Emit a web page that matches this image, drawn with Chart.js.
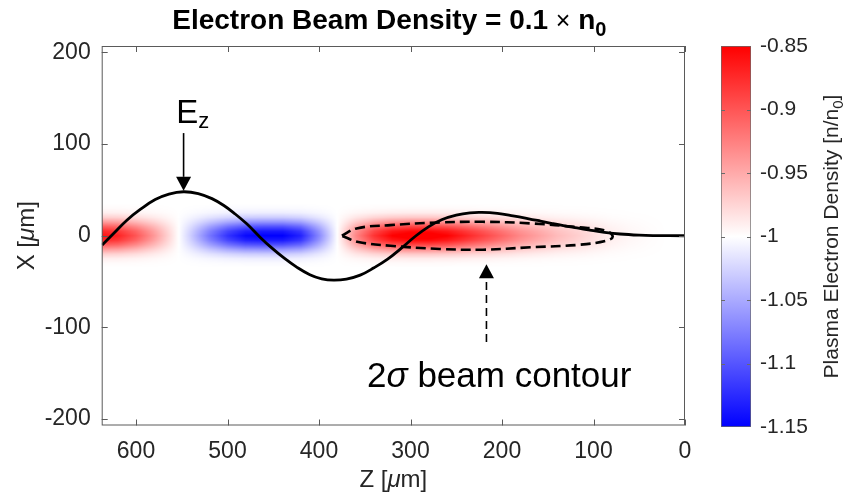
<!DOCTYPE html>
<html>
<head>
<meta charset="utf-8">
<script src="https://cdn.jsdelivr.net/npm/chart.js@4.4.1/dist/chart.umd.min.js"></script>
<style>
  html, body { margin: 0; padding: 0; background: #fff; }
  #wrap { position: relative; width: 847px; height: 498px; }
  #mainChart { position: absolute; left: 0; top: 0; }
  #barChart { position: absolute; left: 700px; top: 0; }
</style>
</head>
<body>
<div id="wrap">
  <canvas id="mainChart" width="700" height="498"></canvas>
  <canvas id="barChart" width="147" height="498"></canvas>
</div>
<script>
const FONT = "'Liberation Sans', Arial, Helvetica, sans-serif";
const INK = '#262626';

// E_z field line, drawn against the X axis
const ezZ = [637, 624, 610, 595, 579, 564, 548, 532, 517, 504, 492, 479, 466,
             452, 438, 424, 410, 397, 384, 370, 355, 340, 325, 310, 294,
             280, 266, 250, 235, 222, 205, 188, 172, 158, 145, 133, 118, 104, 88, 71, 50, 35, 0];
const ezX = [-10, 3, 17, 29, 39.5, 45.5, 48, 46, 40.5, 33, 24, 13, 0,
             -13, -24.5, -34.5, -42.5, -47, -48.5, -47.3, -43, -35, -25.5, -13.5, 0,
             10, 17.5, 22.5, 25, 25.4, 24.3, 21.7, 18.8, 16, 13.3, 11, 8.5, 6.2, 3.8, 1.9, 0.6, 0.2, 0];

// 2 sigma beam contour
const beamZ = [375, 359, 322, 268, 221, 169, 115, 86, 79, 86, 115, 169, 221, 268, 322, 357, 375];
const beamX = [0, 8, 11.6, 14.5, 15.2, 13.5, 9.1, 5.4, -1, -5.4, -9.8, -12.6, -15.2, -14.4, -10.9, -6.8, 0];

// on-axis plasma density perturbation (added to -1) along Z
const densZ = [640, 620, 600, 580, 560, 540, 520, 500, 480, 460, 440, 420, 400, 380, 360, 340, 320,
               300, 280, 260, 240, 220, 200, 180, 160, 140, 120, 100, 80, 60, 40, 20, 0];
const densAmp = [0.14, 0.13, 0.10, 0.06, 0.015, -0.03, -0.08, -0.12, -0.145, -0.15, -0.15, -0.13, -0.07, 0.0, 0.07, 0.12, 0.15,
                 0.16, 0.16, 0.15, 0.13, 0.11, 0.09, 0.07, 0.055, 0.04, 0.03, 0.02, 0.01, 0.005, 0.002, 0, 0];
// transverse fall-off of the perturbation
const profX = [0, 5, 10, 15, 20, 25, 30, 35];
const profF = [1, 0.9, 0.68, 0.42, 0.2, 0.07, 0.02, 0];

// colormap
const cmapVals = [-1.15, -1, -0.85];
const cmapRGB = [[0, 0, 255], [255, 255, 255], [255, 0, 0]];

const zTicks = [600, 500, 400, 300, 200, 100, 0];
const xTicks = [200, 100, 0, -100, -200];
const cbTicks = [-0.85, -0.9, -0.95, -1, -1.05, -1.1, -1.15];

function interp(xs, ys, v) {
  const asc = xs[0] < xs[xs.length - 1];
  const n = xs.length;
  if (asc ? v <= xs[0] : v >= xs[0]) return ys[0];
  if (asc ? v >= xs[n - 1] : v <= xs[n - 1]) return ys[n - 1];
  for (let i = 0; i < n - 1; i++) {
    const a = xs[i], b = xs[i + 1];
    if ((v - a) * (v - b) <= 0) {
      const t = (v - a) / (b - a);
      return ys[i] + t * (ys[i + 1] - ys[i]);
    }
  }
  return ys[n - 1];
}

function cmap(v) {
  return [0, 1, 2].map(k => interp(cmapVals, cmapRGB.map(c => c[k]), v));
}

function richText(ctx, parts, x, y, align) {
  let total = 0;
  parts.forEach(p => { ctx.font = p.font; p.w = ctx.measureText(p.t).width; total += p.w; });
  let cx = align === 'center' ? x - total / 2 : x;
  ctx.textAlign = 'left';
  ctx.textBaseline = 'alphabetic';
  parts.forEach(p => { ctx.font = p.font; ctx.fillText(p.t, cx, y + (p.dy || 0)); cx += p.w; });
}

function arrow(ctx, x, y0, y1, dash) {
  const head = 14, half = 7.5;
  const dir = Math.sign(y1 - y0);
  ctx.save();
  ctx.strokeStyle = '#000';
  ctx.fillStyle = '#000';
  ctx.lineWidth = 1.6;
  ctx.setLineDash(dash || []);
  ctx.beginPath();
  ctx.moveTo(x, y0);
  ctx.lineTo(x, y1 - dir * head);
  ctx.stroke();
  ctx.setLineDash([]);
  ctx.beginPath();
  ctx.moveTo(x, y1);
  ctx.lineTo(x - half, y1 - dir * head);
  ctx.lineTo(x + half, y1 - dir * head);
  ctx.closePath();
  ctx.fill();
  ctx.restore();
}

const heatmap = {
  id: 'heatmap',
  beforeDatasetsDraw(chart) {
    const {ctx, chartArea: a, scales: {x, y}} = chart;
    const w = Math.round(a.right - a.left), h = Math.round(a.bottom - a.top);
    const off = document.createElement('canvas');
    off.width = w;
    off.height = h;
    const octx = off.getContext('2d');
    const img = octx.createImageData(w, h);
    const ampCol = [];
    for (let i = 0; i < w; i++) ampCol.push(interp(densZ, densAmp, x.getValueForPixel(a.left + i + 0.5)));
    const profRow = [];
    for (let j = 0; j < h; j++) profRow.push(interp(profX, profF, Math.abs(y.getValueForPixel(a.top + j + 0.5))));
    for (let j = 0; j < h; j++) {
      for (let i = 0; i < w; i++) {
        const c = cmap(-1 + ampCol[i] * profRow[j]);
        const k = (j * w + i) * 4;
        img.data[k] = c[0];
        img.data[k + 1] = c[1];
        img.data[k + 2] = c[2];
        img.data[k + 3] = 255;
      }
    }
    octx.putImageData(img, 0, 0);
    ctx.drawImage(off, a.left, a.top);
  }
};

const frame = {
  id: 'frame',
  afterDatasetsDraw(chart) {
    const {ctx, chartArea: a, scales: {x, y}} = chart;
    ctx.save();
    // axes box with inward ticks
    ctx.strokeStyle = '#5a5a5a';
    ctx.lineWidth = 1;
    ctx.strokeRect(a.left + 0.5, a.top + 0.5, a.right - a.left - 1, a.bottom - a.top - 1);
    ctx.beginPath();
    zTicks.forEach(v => {
      const px = Math.round(x.getPixelForValue(v)) + 0.5;
      ctx.moveTo(px, a.bottom); ctx.lineTo(px, a.bottom - 6);
      ctx.moveTo(px, a.top); ctx.lineTo(px, a.top + 6);
    });
    xTicks.forEach(v => {
      const py = Math.round(y.getPixelForValue(v)) + 0.5;
      ctx.moveTo(a.left, py); ctx.lineTo(a.left + 6, py);
      ctx.moveTo(a.right, py); ctx.lineTo(a.right - 6, py);
    });
    ctx.stroke();

    // E_z annotation
    ctx.fillStyle = '#000';
    arrow(ctx, x.getPixelForValue(548), y.getPixelForValue(112), y.getPixelForValue(49));
    richText(ctx, [
      {t: 'E', font: `33px ${FONT}`},
      {t: 'z', font: `22px ${FONT}`, dy: 5}
    ], x.getPixelForValue(538), y.getPixelForValue(123), 'center');

    // beam contour annotation
    arrow(ctx, x.getPixelForValue(217), y.getPixelForValue(-116), y.getPixelForValue(-31), [8, 5]);
    ctx.fillStyle = '#000';
    richText(ctx, [
      {t: '2', font: `35px ${FONT}`},
      {t: 'σ', font: `italic 35px ${FONT}`},
      {t: ' beam contour', font: `35px ${FONT}`}
    ], x.getPixelForValue(203), y.getPixelForValue(-164.5), 'center');

    // title
    ctx.fillStyle = '#000';
    const cx = (a.left + a.right) / 2;
    richText(ctx, [
      {t: 'Electron Beam Density = 0.1 ', font: `bold 28px ${FONT}`},
      {t: '×', font: `25px ${FONT}`},
      {t: ' n', font: `bold 28px ${FONT}`},
      {t: '0', font: `bold 20px ${FONT}`, dy: 7}
    ], cx - 4, 29, 'center');

    // axis titles
    ctx.fillStyle = INK;
    richText(ctx, [
      {t: 'Z [', font: `24px ${FONT}`},
      {t: 'μ', font: `italic 24px ${FONT}`},
      {t: 'm]', font: `24px ${FONT}`}
    ], cx, 487, 'center');
    ctx.translate(34, (a.top + a.bottom) / 2);
    ctx.rotate(-Math.PI / 2);
    richText(ctx, [
      {t: 'X [', font: `24px ${FONT}`},
      {t: 'μ', font: `italic 24px ${FONT}`},
      {t: 'm]', font: `24px ${FONT}`}
    ], 0, 0, 'center');
    ctx.restore();
  }
};

const cbFrame = {
  id: 'cbFrame',
  afterDatasetsDraw(chart) {
    const {ctx, chartArea: a, scales: {y}} = chart;
    ctx.save();
    ctx.strokeStyle = '#6a6a6a';
    ctx.lineWidth = 1;
    ctx.beginPath();
    cbTicks.slice(1, -1).forEach(v => {
      const py = Math.round(y.getPixelForValue(v)) + 0.5;
      ctx.moveTo(a.left, py); ctx.lineTo(a.left + 4, py);
      ctx.moveTo(a.right, py); ctx.lineTo(a.right - 4, py);
    });
    ctx.stroke();
    ctx.fillStyle = INK;
    ctx.translate(138, (a.top + a.bottom) / 2);
    ctx.rotate(-Math.PI / 2);
    richText(ctx, [
      {t: 'Plasma Electron Density [n/n', font: `21px ${FONT}`},
      {t: '0', font: `15px ${FONT}`, dy: 5},
      {t: ']', font: `21px ${FONT}`}
    ], 0, 0, 'center');
    ctx.restore();
  }
};

function cbGradient(chart) {
  const y = chart.scales.y;
  if (!y || y.top === undefined) return '#fff';
  const y0 = y.getPixelForValue(cmapVals[0]);
  const y1 = y.getPixelForValue(cmapVals[cmapVals.length - 1]);
  const g = chart.ctx.createLinearGradient(0, y0, 0, y1);
  cmapVals.forEach((v, i) => {
    const t = (v - cmapVals[0]) / (cmapVals[cmapVals.length - 1] - cmapVals[0]);
    g.addColorStop(t, `rgb(${cmapRGB[i].join(',')})`);
  });
  return g;
}

new Chart(document.getElementById('mainChart'), {
  type: 'line',
  data: {
    datasets: [{
      label: 'Ez',
      data: ezZ.map((z, i) => ({x: z, y: ezX[i]})),
      borderColor: '#000',
      borderWidth: 2.8,
      pointRadius: 0,
      tension: 0.4,
      order: 0
    }, {
      label: '2 sigma beam contour',
      data: beamZ.map((z, i) => ({x: z, y: beamX[i]})),
      borderColor: '#000',
      borderWidth: 2.6,
      borderDash: [10, 5],
      pointRadius: 0,
      tension: 0.4,
      order: 1
    }]
  },
  options: {
    responsive: false,
    animation: false,
    layout: { padding: { left: 0, top: 46, right: 15, bottom: 0 } },
    plugins: { legend: { display: false }, tooltip: { enabled: false } },
    scales: {
      x: {
        type: 'linear',
        reverse: true,
        min: 0,
        max: 637.5,
        afterBuildTicks: s => { s.ticks = zTicks.map(v => ({value: v})); },
        afterFit: s => { s.height = 72.5; },
        grid: { display: false },
        border: { display: false },
        ticks: { padding: 4, color: INK, font: { family: FONT, size: 23 }, maxRotation: 0 }
      },
      y: {
        type: 'linear',
        min: -207,
        max: 207,
        afterBuildTicks: s => { s.ticks = xTicks.map(v => ({value: v})); },
        afterFit: s => { s.width = 101.7; },
        grid: { display: false },
        border: { display: false },
        ticks: { padding: 3, color: INK, font: { family: FONT, size: 23 } }
      }
    }
  },
  plugins: [heatmap, frame]
});

new Chart(document.getElementById('barChart'), {
  type: 'bar',
  data: {
    labels: [''],
    datasets: [{
      data: [[cbTicks[cbTicks.length - 1], cbTicks[0]]],
      backgroundColor: c => cbGradient(c.chart),
      borderColor: '#6a6a6a',
      borderWidth: 1,
      borderSkipped: false,
      barPercentage: 1,
      categoryPercentage: 1
    }]
  },
  options: {
    responsive: false,
    animation: false,
    layout: { padding: { left: 21, top: 46, bottom: 71, right: 0 } },
    plugins: { legend: { display: false }, tooltip: { enabled: false } },
    scales: {
      x: { display: false },
      y: {
        position: 'right',
        min: -1.15,
        max: -0.85,
        afterBuildTicks: s => { s.ticks = cbTicks.map(v => ({value: v})); },
        afterFit: s => { s.width = 96; },
        grid: { display: false },
        border: { display: false },
        ticks: { padding: 1, color: INK, font: { family: FONT, size: 21 }, callback: v => String(+v.toFixed(2)) }
      }
    }
  },
  plugins: [cbFrame]
});
</script>
</body>
</html>
